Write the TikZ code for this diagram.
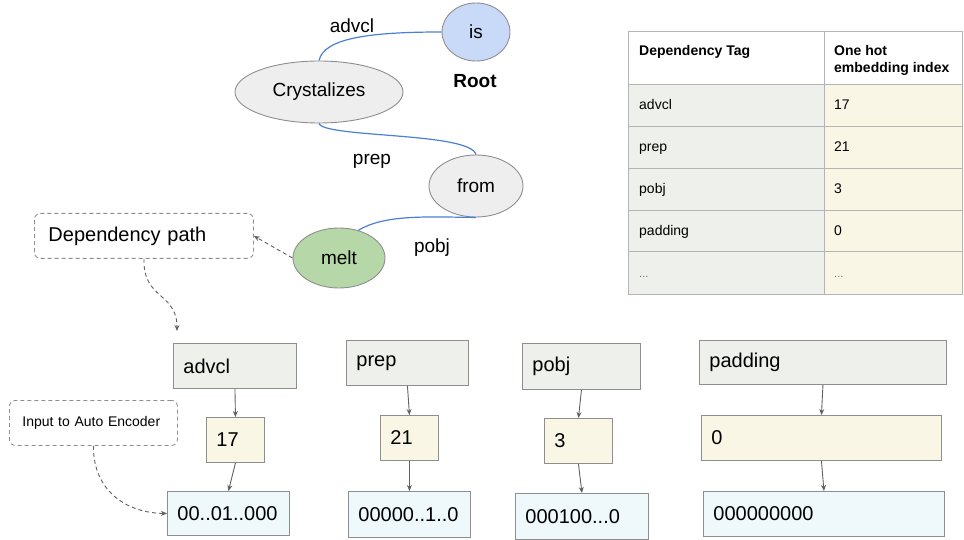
\documentclass[tikz,border=0pt]{standalone}
\usepackage{fontspec}
\setmainfont{Liberation Sans}
\usetikzlibrary{shapes.geometric,arrows.meta}
\definecolor{edgeblue}{HTML}{4A7FD6}
\definecolor{lineg}{HTML}{8E8E8E}
\definecolor{gridg}{HTML}{B4B4B4}
\definecolor{tagfill}{HTML}{EEF0EB}
\definecolor{idxfill}{HTML}{F9F6E5}
\definecolor{vecfill}{HTML}{EFF9FC}
\definecolor{rootfill}{HTML}{C9DAF8}
\definecolor{wordfill}{HTML}{EEEEEE}
\definecolor{leaffill}{HTML}{B6D7A8}
\newcommand{\fsz}[1]{\fontsize{#1}{#1}\selectfont}
\tikzset{
  word/.style={ellipse, draw=lineg, line width=0.9pt, inner sep=0pt, font=\fsz{19}},
  deplabel/.style={anchor=base, inner sep=0pt, font=\fsz{19}},
  tree/.style={draw=edgeblue, line width=1.2pt},
  cell/.style={rectangle, draw=lineg, line width=0.9pt, anchor=north west,
    inner xsep=10pt, inner ysep=0pt, align=left, font=\fsz{20}},
  tagbox/.style={cell, fill=tagfill},
  idxbox/.style={cell, fill=idxfill},
  vecbox/.style={cell, fill=vecfill},
  note/.style={rectangle, rounded corners=6pt, draw=lineg, line width=0.9pt,
    dash pattern=on 4pt off 3pt, anchor=north west, inner ysep=0pt, align=left},
  flow/.style={draw=black!62, line width=0.9pt, -{Stealth[length=6pt,width=5pt]}},
  hint/.style={draw=black!62, line width=0.9pt, dash pattern=on 4pt off 3pt,
    -{Stealth[length=6pt,width=5pt]}},
  tabtxt/.style={anchor=base west, inner sep=0pt, font=\fsz{14}},
}
\begin{document}
\begin{tikzpicture}[x=1pt,y=-1pt]
\useasboundingbox (0,0) rectangle (964,540);

% ---- dependency tree ----
\node[word, fill=rootfill, minimum width=68pt, minimum height=58pt] (is) at (476,32) {is};
\node[word, fill=wordfill, minimum width=168pt, minimum height=62pt] (cry) at (319,92) {Crystalizes};
\node[word, fill=wordfill, minimum width=94pt, minimum height=62pt] (from) at (476,186) {from};
\node[word, fill=leaffill, minimum width=92pt, minimum height=60pt] (melt) at (339,258) {melt};

\draw[tree] (cry.north) .. controls (324,38) and (370,32) .. (is.west);
\draw[tree] (cry.south) .. controls (324,138) and (470,132) .. (from.north);
\draw[tree] (from.south) .. controls (430,217) and (385,214) .. (melt.55);

\node[deplabel] (lab1) at (352,33) {advcl};
\node[deplabel] (lab2) at (372,165) {prep};
\node[deplabel] (lab3) at (432,252) {pobj};
\node[deplabel, font=\fsz{19}\bfseries] (root) at (475,88) {Root};

% ---- notes ----
\node[note, inner xsep=14pt, text width=191pt, minimum height=45pt, font=\fsz{20}] (dep) at (34,213) {Dependency path};
\node[note, inner xsep=13pt, text width=142pt, minimum height=45pt, font=\fsz{14}] (inp) at (9,400) {Input to Auto Encoder};

% ---- tag / index / vector columns ----
\node[tagbox, text width=103pt, minimum height=45pt] (advcl) at (173,343) {advcl};
\node[idxbox, text width=38pt,  minimum height=45pt] (i17)   at (206,417) {17};
\node[vecbox, text width=102pt, minimum height=44pt] (v17)   at (167,491) {00..01..000};

\node[tagbox, text width=102pt, minimum height=45pt] (prep)  at (346,340) {prep};
\node[idxbox, text width=38pt,  minimum height=45pt] (i21)   at (380,415) {21};
\node[vecbox, text width=102pt, minimum height=46pt] (v21)   at (348,491) {00000..1..0};

\node[tagbox, text width=98pt,  minimum height=46pt] (pobj)  at (522,343) {pobj};
\node[idxbox, text width=48pt,  minimum height=45pt] (i3)    at (544,418) {3};
\node[vecbox, text width=113pt, minimum height=46pt] (v3)    at (515,493) {000100...0};

\node[tagbox, text width=227pt, minimum height=44pt] (pad)   at (699,340) {padding};
\node[idxbox, text width=220pt, minimum height=45pt] (i0)    at (701,415) {0};
\node[vecbox, text width=221pt, minimum height=45pt] (v0)    at (703,491) {000000000};

\draw[flow] (advcl.south) -- (i17.north);
\draw[flow] (i17.south) -- (v17.north);
\draw[flow] (prep.south) -- (i21.north);
\draw[flow] (i21.south) -- (v21.north);
\draw[flow] (pobj.south) -- (i3.north);
\draw[flow] (i3.south) -- (v3.north);
\draw[flow] (pad.south) -- (i0.north);
\draw[flow] (i0.south) -- (v0.north);

% ---- dashed hints ----
\coordinate (pathend) at (177,331);
\draw[hint] (melt.west) -- (dep.east);
\draw[hint] (dep.south) .. controls (143,300) and (177,292) .. (pathend);
\draw[hint] (inp.south) .. controls (93,492) and (128,513) .. (v17.west);

% ---- lookup table ----
\fill[tagfill] (628,85) rectangle (824,294);
\fill[idxfill] (824,85) rectangle (962,294);
\draw[gridg, line width=1pt] (628,32) rectangle (962,294);
\foreach \yy in {85,127,169,211,252} \draw[gridg, line width=1pt] (628,\yy) -- (962,\yy);
\draw[gridg, line width=1pt] (824,32) -- (824,294);

\node[tabtxt, font=\fsz{14}\bfseries] (h1) at (639,56) {Dependency Tag};
\node[tabtxt, font=\fsz{14}\bfseries] (h2a) at (834,56) {One hot};
\node[tabtxt, font=\fsz{14}\bfseries] (h2b) at (834,73) {embedding index};
\node[tabtxt] (r1a) at (639,110) {advcl};
\node[tabtxt] (r1b) at (834,110) {17};
\node[tabtxt] (r2a) at (639,152) {prep};
\node[tabtxt] (r2b) at (834,152) {21};
\node[tabtxt] (r3a) at (639,194) {pobj};
\node[tabtxt] (r3b) at (834,194) {3};
\node[tabtxt] (r4a) at (639,236) {padding};
\node[tabtxt] (r4b) at (834,236) {0};
\node[tabtxt, text=black!55, font=\fsz{11}] (r5a) at (639,277) {...};
\node[tabtxt, text=black!55, font=\fsz{11}] (r5b) at (834,277) {...};
\end{tikzpicture}
\end{document}
